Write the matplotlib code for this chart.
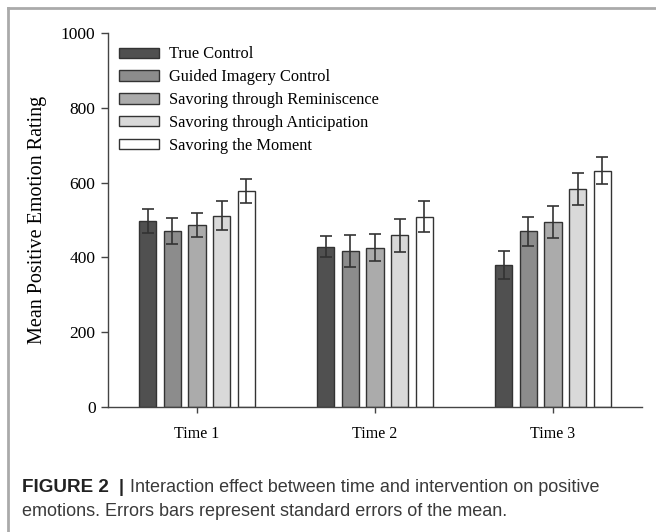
import matplotlib
matplotlib.use("Agg")
import matplotlib.pyplot as plt
import numpy as np
from matplotlib.lines import Line2D

times = ["Time 1", "Time 2", "Time 3"]
groups = ["True Control", "Guided Imagery Control", "Savoring through Reminiscence",
          "Savoring through Anticipation", "Savoring the Moment"]
true_control = [497, 429, 379]
guided_imagery = [470, 417, 470]
reminiscence = [487, 426, 495]
anticipation = [511, 459, 583]
moment = [577, 509, 632]
true_control_se = [32, 29, 38]
guided_imagery_se = [35, 44, 39]
reminiscence_se = [33, 36, 43]
anticipation_se = [39, 44, 42]
moment_se = [32, 41, 37]
y_ticks = [0, 200, 400, 600, 800, 1000]

series = [true_control, guided_imagery, reminiscence, anticipation, moment]
errors = [true_control_se, guided_imagery_se, reminiscence_se, anticipation_se, moment_se]
colors = ["#505050", "#8c8c8c", "#ababab", "#d9d9d9", "#ffffff"]

W, H = 656, 532
fig = plt.figure(figsize=(W/100, H/100), dpi=100)
ax = fig.add_axes([108/W, 1-407/H, (642-108)/W, (407-33)/H])

serif = "Liberation Serif"
x = np.arange(len(times))
pitch = 0.139
width = 0.097
for i, (vals, err, c, lab) in enumerate(zip(series, errors, colors, groups)):
    pos = x + (i - 2) * pitch
    ax.bar(pos, vals, width=width, color=c, edgecolor="#333333", linewidth=1.0, label=lab, zorder=2)
    ax.errorbar(pos, vals, yerr=err, fmt="none", ecolor="#333333", elinewidth=1.2,
                capsize=4, capthick=1.2, zorder=3)

ax.set_xlim(-0.5, 2.5)
ax.set_ylim(0, 1000)
ax.set_yticks(y_ticks)
ax.set_yticklabels([str(t) for t in y_ticks], fontfamily=serif, fontsize=12.5)
ax.set_xticks(x)
ax.set_xticklabels(times, fontfamily=serif, fontsize=11.5)
ax.tick_params(axis="y", direction="out", length=5, width=1, color="#444444", pad=4)
ax.tick_params(axis="x", direction="out", length=4, width=1, color="#444444", pad=10)
for s in ["top", "right"]:
    ax.spines[s].set_visible(False)
for s in ["left", "bottom"]:
    ax.spines[s].set_color("#444444")
    ax.spines[s].set_linewidth(1.0)
ax.set_ylabel("Mean Positive Emotion Rating", fontfamily=serif, fontsize=14.5, labelpad=10)

leg = ax.legend(loc="upper left", bbox_to_anchor=(0.02, 0.964), frameon=False,
                prop={"family": serif, "size": 11.75}, handlelength=2.5, handleheight=0.6,
                labelspacing=0.42, handletextpad=0.6, borderaxespad=0, borderpad=0)

# frame lines (top and left)
fig.add_artist(Line2D([8/W, 1.0], [1-8/H, 1-8/H], color="#aaaaaa", linewidth=2))
fig.add_artist(Line2D([8/W, 8/W], [0, 1-8/H], color="#aaaaaa", linewidth=2))

# caption
cap_font = "Liberation Sans"
cap_size = 13
cap_color = "#3a3a3a"
y1 = 1 - 487/H
y2 = 1 - 512/H
fig.text(22/W, y1, "FIGURE 2", fontsize=13.6, va="center", ha="left",
         family=cap_font, fontweight="bold", color="#222222")
fig.text(121/W, y1, "|", fontsize=cap_size, va="center", ha="center",
         family=cap_font, fontweight="bold", color="#222222")
fig.text(130/W, y1, "Interaction effect between time and intervention on positive",
         fontsize=cap_size, va="center", ha="left", family=cap_font, color=cap_color)
fig.text(22/W, y2, "emotions. Errors bars represent standard errors of the mean.",
         fontsize=cap_size, va="center", ha="left", family=cap_font, color=cap_color)

fig.savefig("out.png", dpi=100)
